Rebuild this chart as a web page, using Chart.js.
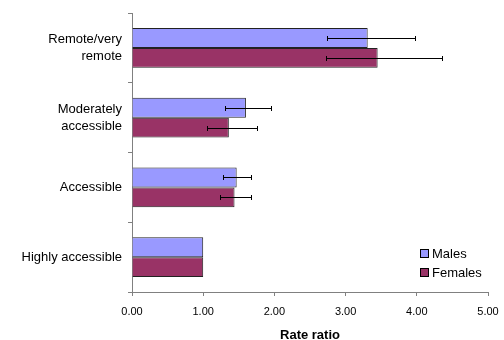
<!DOCTYPE html>
<html>
<head>
<meta charset="utf-8">
<script src="https://cdn.jsdelivr.net/npm/chart.js@4"></script>
<style>
  html, body { margin: 0; padding: 0; background: #fff; }
  #wrap { width: 504px; height: 340px; }
</style>
</head>
<body>
<div id="wrap"><canvas id="chart" width="504" height="340"></canvas></div>
<script>
// data
const categories = [['Remote/very', 'remote'], ['Moderately', 'accessible'], 'Accessible', 'Highly accessible'];
const males = [3.31, 1.60, 1.47, 1.00];
const females = [3.45, 1.36, 1.44, 1.00];
const malesLow = [2.74, 1.31, 1.28, null];
const malesHigh = [3.98, 1.95, 1.67, null];
const femalesLow = [2.72, 1.06, 1.24, null];
const femalesHigh = [4.36, 1.75, 1.67, null];
const xMin = 0, xMax = 5, xStep = 1;

const FONT = 'Liberation Sans, Arial, sans-serif';

// error bars drawn through the x scale
const errorBars = {
    id: 'errorBars',
    afterDatasetsDraw(chart) {
        const ctx = chart.ctx;
        const xs = chart.scales.x;
        const ranges = [[malesLow, malesHigh], [femalesLow, femalesHigh]];
        ctx.save();
        ctx.strokeStyle = '#000';
        ctx.lineWidth = 1;
        ranges.forEach((r, di) => {
            const meta = chart.getDatasetMeta(di);
            meta.data.forEach((bar, i) => {
                if (r[0][i] == null) return;
                const x1 = Math.round(xs.getPixelForValue(r[0][i])) + 0.5;
                const x2 = Math.round(xs.getPixelForValue(r[1][i])) + 0.5;
                const y = Math.round(bar.y) + 0.5;
                ctx.beginPath();
                ctx.moveTo(x1, y); ctx.lineTo(x2, y);
                ctx.moveTo(x1, y - 2.5); ctx.lineTo(x1, y + 2.5);
                ctx.moveTo(x2, y - 2.5); ctx.lineTo(x2, y + 2.5);
                ctx.stroke();
            });
        });
        ctx.restore();
    }
};

// legend inside the plot, bottom right
const boxLegend = {
    id: 'boxLegend',
    afterDraw(chart) {
        const ctx = chart.ctx;
        const a = chart.chartArea;
        ctx.save();
        ctx.font = '13px ' + FONT;
        ctx.textBaseline = 'middle';
        chart.data.datasets.forEach((ds, i) => {
            const x = a.right - 68;
            const y = a.bottom - 43 + i * 19;
            ctx.fillStyle = ds.backgroundColor;
            ctx.fillRect(x + 0.5, y + 0.5, 8, 8);
            ctx.strokeStyle = '#000';
            ctx.lineWidth = 1;
            ctx.strokeRect(x + 0.5, y + 0.5, 8, 8);
            ctx.fillStyle = '#000';
            ctx.fillText(ds.label, x + 12, y + 5);
        });
        ctx.restore();
    }
};

new Chart(document.getElementById('chart'), {
    type: 'bar',
    data: {
        labels: categories,
        datasets: [{
            label: 'Males',
            data: males,
            backgroundColor: '#9999FF',
            borderColor: '#222',
            borderWidth: 1
        }, {
            label: 'Females',
            data: females,
            backgroundColor: '#993366',
            borderColor: '#222',
            borderWidth: 1
        }]
    },
    options: {
        indexAxis: 'y',
        responsive: false,
        animation: false,
        categoryPercentage: 0.571,
        barPercentage: 1,
        layout: { padding: { top: 13, right: 16, left: 0, bottom: 0 } },
        plugins: {
            legend: { display: false },
            tooltip: { enabled: false }
        },
        scales: {
            x: {
                min: xMin,
                max: xMax,
                ticks: {
                    stepSize: xStep,
                    color: '#000',
                    font: { family: FONT, size: 11 },
                    padding: 9,
                    maxRotation: 0,
                    callback: v => v.toFixed(2)
                },
                grid: {
                    drawOnChartArea: false,
                    tickLength: 4,
                    color: '#808080'
                },
                border: { color: '#808080', width: 1 },
                title: {
                    display: true,
                    text: 'Rate ratio',
                    color: '#000',
                    font: { family: FONT, size: 13, weight: 'bold' },
                    padding: { top: 0, bottom: -3 }
                },
                afterFit(scale) {
                    scale.height = 48;
                    scale.paddingLeft = 0;
                    scale.paddingRight = 0;
                }
            },
            y: {
                ticks: {
                    color: '#000',
                    font: { family: FONT, size: 13, lineHeight: 1.3 },
                    padding: 6
                },
                grid: {
                    drawOnChartArea: false,
                    tickLength: 4,
                    color: '#808080'
                },
                border: { color: '#808080', width: 1 },
                afterFit(scale) {
                    scale.width = 132;
                    scale.paddingTop = 0;
                    scale.paddingBottom = 0;
                }
            }
        }
    },
    plugins: [errorBars, boxLegend]
});
</script>
</body>
</html>
